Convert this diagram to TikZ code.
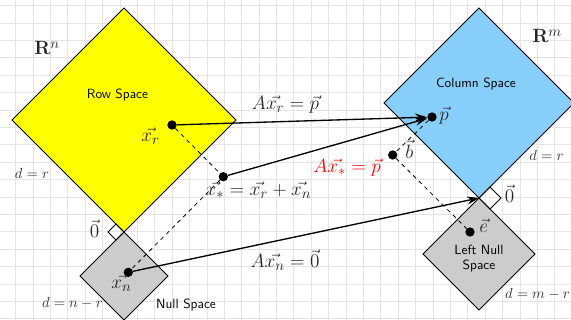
\documentclass[tikz,border=0pt]{standalone}
\usepackage{amsmath}
\usetikzlibrary{arrows.meta}
\definecolor{rowyellow}{RGB}{255,255,0}
\definecolor{colblue}{RGB}{135,206,250}
\definecolor{nullgray}{RGB}{204,204,204}
\definecolor{gridgray}{RGB}{228,228,228}
\definecolor{eqred}{RGB}{255,0,0}
\tikzset{
  gridline/.style={draw=gridgray, line width=0.7pt},
  spaceedge/.style={draw=black, line width=0.6pt},
  vdot/.style={circle, fill=black, inner sep=0pt, minimum size=7pt},
  biglbl/.style={font=\fontsize{15}{18}\selectfont, inner sep=0pt, text=black!85},
  smalllbl/.style={font=\fontsize{11}{13}\selectfont, inner sep=0pt, text=black!80},
  sanslbl/.style={font=\sffamily\fontsize{10}{11.25}\selectfont, inner sep=0pt, align=center},
  mapto/.style={-{Stealth[length=9pt,width=6pt]}, line width=1pt},
  proj/.style={dashed, line width=0.6pt},
  rightmark/.style={draw=black, line width=0.6pt},
}
\begin{document}
\begin{tikzpicture}[x=0.75pt,y=-0.75pt]
\useasboundingbox (0,0) rectangle (571,320);
% grid
\foreach \k in {0,...,33} \draw[gridline] ({-1.7+17.39*\k},0) -- ({-1.7+17.39*\k},320);
\foreach \k in {0,...,18} \draw[gridline] (0,{5.6+17.4*\k}) -- (571,{5.6+17.4*\k});
% spaces
\draw[spaceedge, fill=rowyellow] (124,8) -- (236,120) -- (124,232) -- (12,120) -- cycle;
\draw[spaceedge, fill=nullgray] (124,232) -- (168,276) -- (124,320) -- (80,276) -- cycle;
\draw[spaceedge, fill=colblue] (479,8) -- (574,103) -- (479,198) -- (384,103) -- cycle;
\draw[spaceedge, fill=nullgray] (479,198) -- (535,254) -- (479,310) -- (423,254) -- cycle;
% right angle marks
\draw[rightmark] (124,232) -- (116,224) -- (108,232) -- (116,240) -- cycle;
\draw[rightmark] (479,198) -- (490,187) -- (501,198) -- (490,209) -- cycle;
% points
\node[vdot] (xr) at (172,125) {};
\node[vdot] (xs) at (223.3,176.7) {};
\node[vdot] (xn) at (128.3,272.3) {};
\node[vdot] (p) at (432,117) {};
\node[vdot] (b) at (392.7,155) {};
\node[vdot] (e) at (470,232) {};
\coordinate (zm) at (479,198);
% connectors
\draw[proj] (xr) -- (xs);
\draw[proj] (xs) -- (xn);
\draw[proj] (p) -- (b);
\draw[proj] (b) -- (e);
\draw[mapto] (xr) -- (p);
\draw[mapto] (xs) -- (p);
\draw[mapto] (xn) -- (zm);
% labels
\node[biglbl, anchor=base west] (Rn) at (34,55) {$\mathbf{R}^n$};
\node[biglbl, anchor=base west] (Rm) at (532,43) {$\mathbf{R}^m$};
\node[sanslbl, anchor=base] (rowsp) at (117.5,99) {Row Space};
\node[sanslbl, anchor=base] (colsp) at (476,88) {Column Space};
\node[sanslbl, anchor=base] (nullsp) at (186,308) {Null Space};
\node[sanslbl, anchor=center] (lnullsp) at (479,259) {Left Null\\Space};
\node[biglbl, anchor=base] (lxr) at (150.5,142) {$\vec{x_r}$};
\node[biglbl, anchor=base] (lxn) at (121.5,289) {$\vec{x_n}$};
\node[biglbl, anchor=base west] (lp) at (439,121) {$\vec{p}$};
\node[biglbl, anchor=base west] (lb) at (405,159) {$\vec{b}$};
\node[biglbl, anchor=base west] (le) at (479,233) {$\vec{e}$};
\node[biglbl, anchor=base] (l0a) at (94.5,238) {$\vec{0}$};
\node[biglbl, anchor=base] (l0b) at (509.5,203) {$\vec{0}$};
\node[biglbl, anchor=base] (eq1) at (285.5,110) {$A\vec{x_r} = \vec{p}$};
\node[biglbl, anchor=base] (eq2) at (258.5,196) {$\vec{x_*} = \vec{x_r} + \vec{x_n}$};
\node[biglbl, anchor=base, text=eqred] (eq3) at (347,173) {$A\vec{x_*} = \vec{p}$};
\node[biglbl, anchor=base] (eq4) at (285,268) {$A\vec{x_n} = \vec{0}$};
\node[smalllbl, anchor=base] (d1) at (32,179) {$d = r$};
\node[smalllbl, anchor=base] (d2) at (72.5,307) {$d = n - r$};
\node[smalllbl, anchor=base] (d3) at (546.5,161) {$d = r$};
\node[smalllbl, anchor=base] (d4) at (537.5,299) {$d = m - r$};
\end{tikzpicture}
\end{document}
